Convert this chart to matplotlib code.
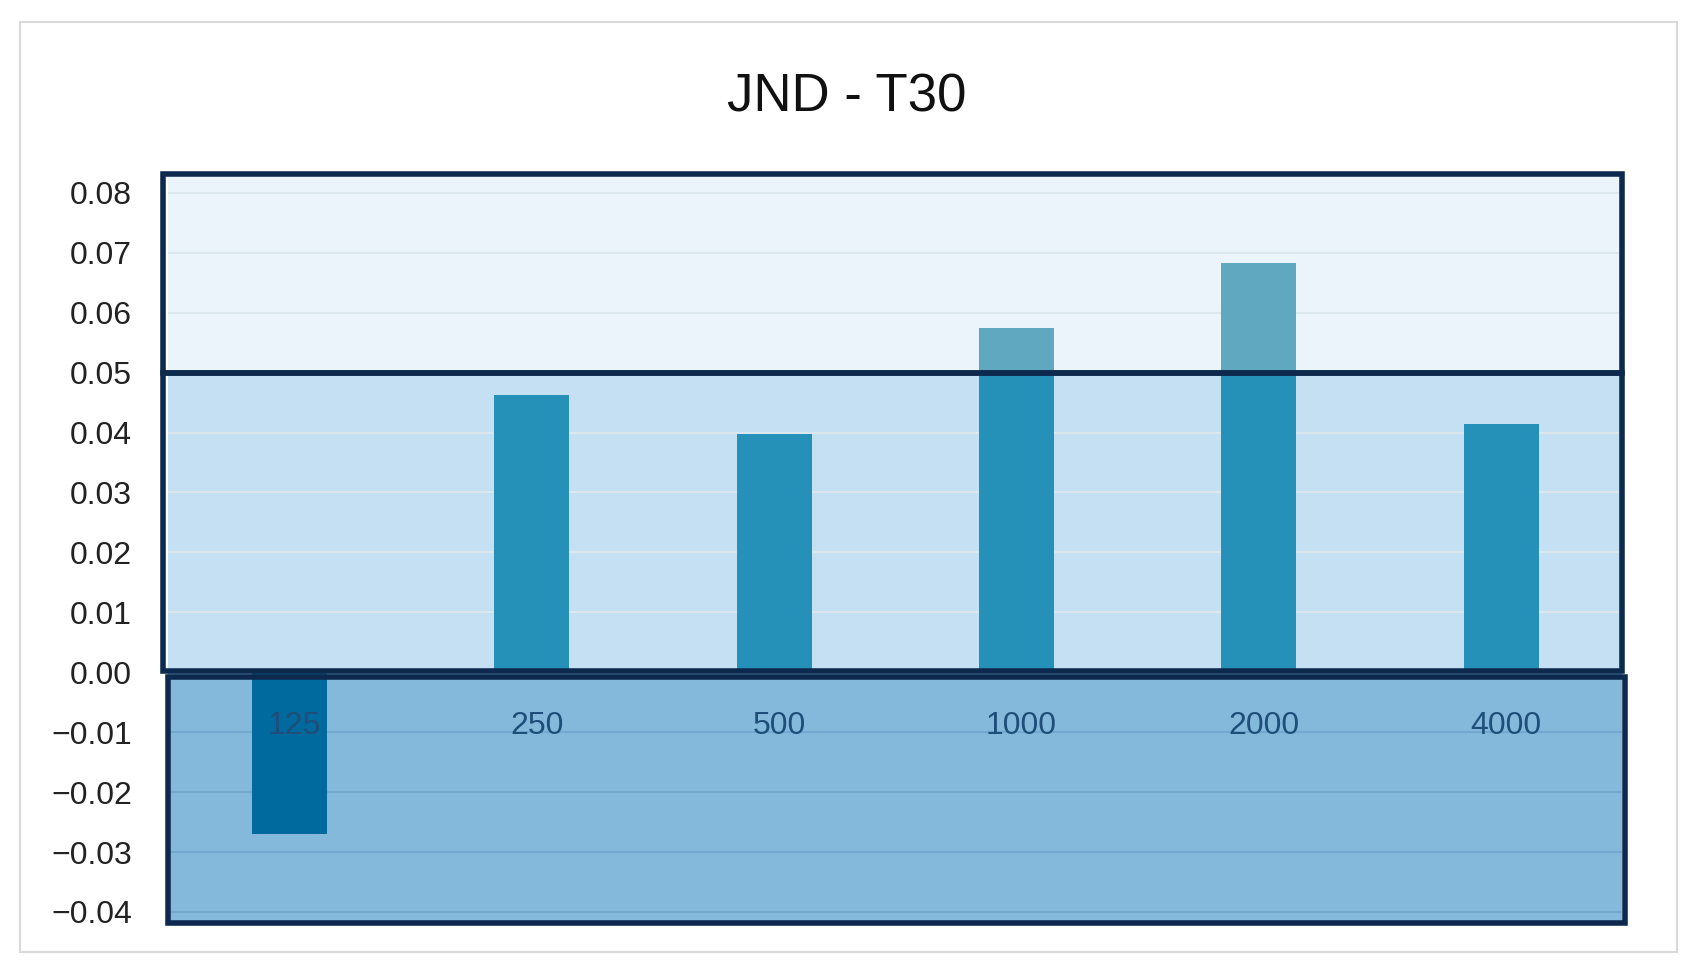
import matplotlib
matplotlib.use("Agg")
import matplotlib.pyplot as plt
from matplotlib.patches import Rectangle

categories = ["125", "250", "500", "1000", "2000", "4000"]
values = [-0.027, 0.0463, 0.0397, 0.0575, 0.0683, 0.0415]
yticks = [-0.04, -0.03, -0.02, -0.01, 0.0, 0.01, 0.02, 0.03, 0.04, 0.05, 0.06, 0.07, 0.08]
threshold = 0.05

W, H = 1560, 900  # reference layout units (scaled to output)
fig = plt.figure(figsize=(16.93, 9.77), dpi=100)
fig.patches.append(Rectangle((18/W, 1-877/H), (1545-18)/W, (877-20)/H, transform=fig.transFigure,
                             fill=False, ec="#d9d9d9", lw=1.5))
ax = fig.add_axes([155/W, 1-850/H, (1495-155)/W, 690/H])
ymin, ymax = -0.0418, 0.0832
xmin, xmax = -0.5, 5.5
ax.set_xlim(xmin, xmax); ax.set_ylim(ymin, ymax)
for s in ax.spines.values():
    s.set_visible(False)

ax.axhspan(threshold, ymax, color="#eaf4fa", zorder=0)
ax.axhspan(0, threshold, color="#c5e0f2", zorder=0)
ax.axhspan(ymin, 0, color="#85b9dc", zorder=0)
for t in yticks:
    ax.axhline(t, color="#dbe7ef" if t > 0 else "#74a9cf", lw=1.5, zorder=0.5)

x = range(len(categories))
for i, v in zip(x, values):
    if v < 0:
        ax.bar(i, v, width=0.31, color="#006a9e", zorder=2)
    else:
        ax.bar(i, min(v, threshold), width=0.31, color="#2691b8", zorder=2)
        if v > threshold:
            ax.bar(i, v - threshold, bottom=threshold, width=0.31, color="#5fa8c0", zorder=2)

navy = "#0d2a4e"
ax.add_patch(Rectangle((xmin - 0.02, threshold), xmax - xmin + 0.02, ymax - threshold,
                       fill=False, ec=navy, lw=4, zorder=3, clip_on=False))
ax.add_patch(Rectangle((xmin - 0.02, 0.0002), xmax - xmin + 0.02, threshold - 0.0002,
                       fill=False, ec=navy, lw=4, zorder=3, clip_on=False))
ax.add_patch(Rectangle((xmin, ymin), xmax - xmin + 0.01, -0.0008 - ymin,
                       fill=False, ec=navy, lw=4, zorder=3, clip_on=False))

ax.set_yticks(yticks)
ax.set_yticklabels([f"{t:.2f}".replace("-", "\u2212") for t in yticks], fontsize=23,
                   color="#222222", family="Liberation Sans")
ax.tick_params(axis="y", length=0, pad=26)
ax.set_xticks([])
for i, c in zip(x, categories):
    ax.text(i + 0.02, -0.009, c, ha="center", va="center", fontsize=23, color="#1e4e79",
            zorder=4, family="Liberation Sans")

fig.text(780/W, 1-90/H, "JND - T30", ha="center", va="center", fontsize=38,
         color="#111111", family="Liberation Sans")
fig.savefig("out.png", dpi=100, facecolor="white")
